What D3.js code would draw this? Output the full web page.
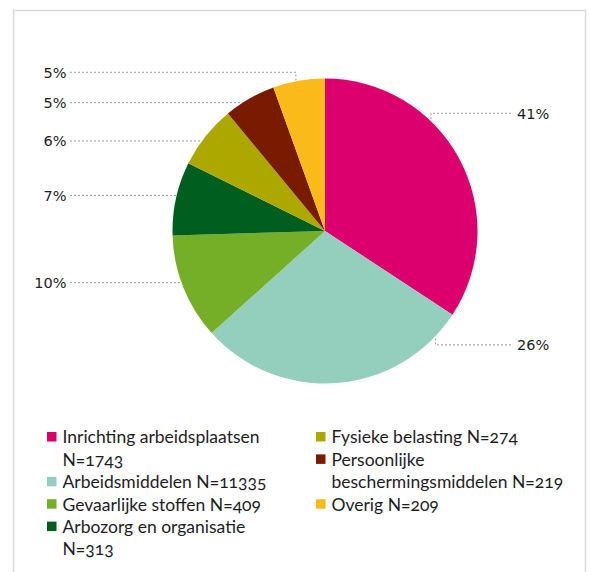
<!DOCTYPE html>
<html>
<head>
<meta charset="utf-8">
<script src="https://cdn.jsdelivr.net/npm/d3@7"></script>
<style>
  html, body { margin: 0; padding: 0; background: #fff; }
  svg text { font-family: Lato, "Noto Sans", sans-serif; fill: #1e1e1e; }
  .labels text { font-family: "DejaVu Sans", sans-serif; }
  .legend text { font-variant-numeric: oldstyle-nums; }
</style>
</head>
<body>
<div id="chart"></div>
<script>
// categories in drawing order (clockwise from 12 o'clock)
const categories = [
  "Inrichting arbeidsplaatsen",
  "Arbeidsmiddelen",
  "Gevaarlijke stoffen",
  "Arbozorg en organisatie",
  "Fysieke belasting",
  "Persoonlijke beschermingsmiddelen",
  "Overig"
];
// N as printed in the legend
const counts = [1743, 11335, 409, 313, 274, 219, 209];
// slice sizes as drawn in the picture (%)
const shares = [34.3, 29.1, 11.2, 7.8, 6.7, 5.5, 5.5];
// percentage labels as printed
const pctLabels = ["41%", "26%", "10%", "7%", "6%", "5%", "5%"];
const colors = ["#dc006e", "#94cfbd", "#74af27", "#005f1f", "#aca800", "#791b00", "#fabb1a"];

// callout layout: angle (deg) where leader meets the pie, label offset in px
const calloutAngle = [44, 133.6, 250.2, 283.5, 306.2, 327.3, 349];
const calloutShift = [-8, 8.7, 0, 0, 0, 0, -9];

const width = 589, height = 572;
const cx = 325, cy = 231, radius = 152.5;

const svg = d3.select("#chart").append("svg")
    .attr("width", width)
    .attr("height", height);

// frame
svg.append("path")
    .attr("d", "M13.5," + height + "V10.5H585.5V" + height)
    .attr("fill", "none")
    .attr("stroke", "#d9d9d9")
    .attr("stroke-width", 1.5);

let pie = d3.pie().sort(null).value(d => d)(shares);
let arc = d3.arc().innerRadius(0).outerRadius(radius);

// leader lines (under the pie)
let leaders = svg.append("g").attr("class", "leaders");
let labels = svg.append("g").attr("class", "labels");

pie.forEach((p, i) => {
    let a = calloutAngle[i] * Math.PI / 180;
    let ex = cx + radius * Math.sin(a);
    let ey = cy - radius * Math.cos(a);
    let ly = ey + calloutShift[i];
    let right = Math.sin(a) > 0;
    let lx = right ? 511 : 70;

    leaders.append("path")
        .attr("d", "M" + lx + "," + ly + "H" + ex + "V" + ey)
        .attr("fill", "none")
        .attr("stroke", "#9a9a9a")
        .attr("stroke-width", 1)
        .attr("stroke-dasharray", "2,2");

    labels.append("text")
        .attr("x", right ? 517 : 66.5)
        .attr("y", ly)
        .attr("dy", "0.36em")
        .attr("text-anchor", right ? "start" : "end")
        .style("font-size", "14.5px")
        .text(pctLabels[i]);
});

svg.append("g")
    .attr("transform", "translate(" + cx + "," + cy + ")")
    .selectAll("path")
    .data(pie)
    .enter().append("path")
    .attr("d", arc)
    .attr("fill", (d, i) => colors[i]);

// legend, two columns flowing independently
let legend = svg.append("g").attr("class", "legend");
let columns = [[0, 1, 2, 3], [4, 5, 6]];
let colX = [47, 316];
let colMaxW = [215, 240];
let lineH = 22.4;
let firstY = 437;

columns.forEach((col, c) => {
    let line = 0;
    let tx = colX[c] + 15.5;
    col.forEach(i => {
        let y = firstY + line * lineH;
        legend.append("rect")
            .attr("x", colX[c])
            .attr("y", y - 5)
            .attr("width", 9.5)
            .attr("height", 9.5)
            .attr("fill", colors[i]);

        let words = (categories[i] + " N=" + counts[i]).split(" ");
        let t = legend.append("text")
            .style("font-size", "17.5px");
        let ts = t.append("tspan").attr("x", tx).attr("y", y).attr("dy", "0.36em");
        let cur = [];
        words.forEach(w => {
            cur.push(w);
            ts.text(cur.join(" "));
            if (ts.node().getComputedTextLength() > colMaxW[c] && cur.length > 1) {
                cur.pop();
                ts.text(cur.join(" "));
                cur = [w];
                line++;
                ts = t.append("tspan")
                    .attr("x", tx)
                    .attr("y", firstY + line * lineH)
                    .attr("dy", "0.36em")
                    .text(w);
            }
        });
        line++;
    });
});
</script>
</body>
</html>
